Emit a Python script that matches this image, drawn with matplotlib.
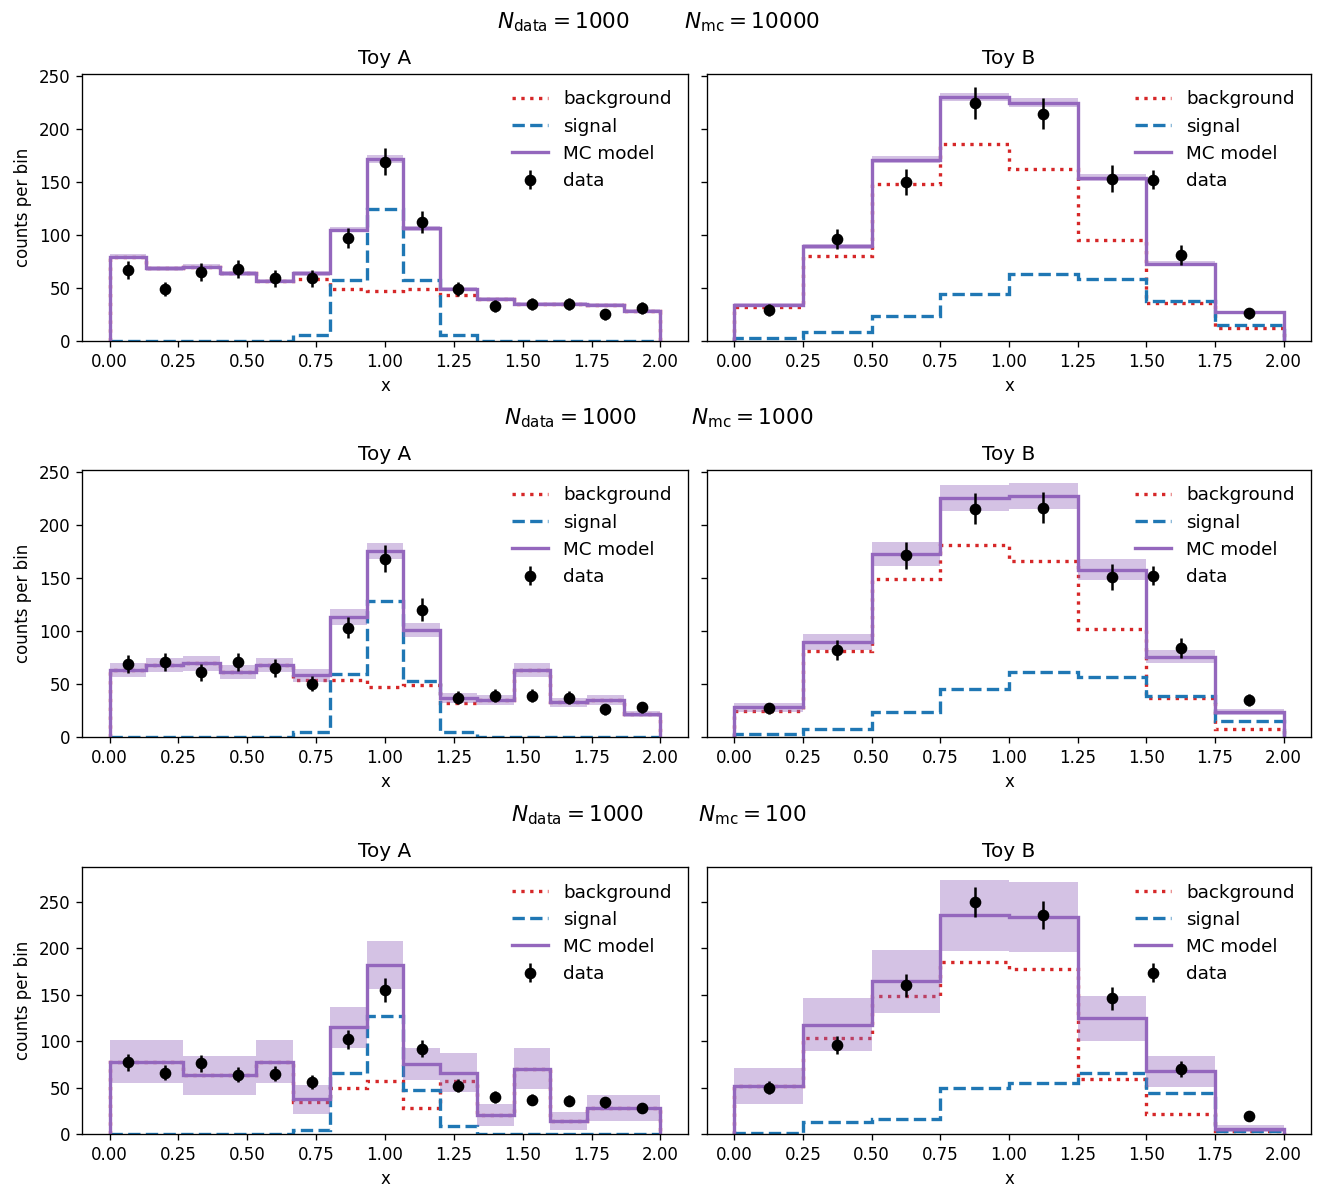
import matplotlib.pyplot as plt
import numpy as np

# bin edges of the two toys
edges_a = np.linspace(0, 2, 16)
edges_b = np.linspace(0, 2, 9)

n_data = 1000
n_mc = [10000, 1000, 100]

# --- N_mc = 10000 ---
bkg_1a = [79.3, 68.3, 70, 63.6, 56.7, 58, 48.6, 46.7, 49, 43.4, 40, 35, 35, 34, 28.5]
sig_1a = [0, 0, 0, 0, 0, 5.6, 57, 124, 57, 5.6, 0, 0, 0, 0, 0]
mc_1a = [79.3, 68.3, 70, 63.6, 56.7, 63.6, 105, 171.5, 106, 49, 40, 35, 35, 34, 28.5]
mcerr_1a = [2.3, 2.2, 2.2, 2.1, 2, 2.1, 2.7, 3.5, 2.7, 1.8, 1.7, 1.6, 1.6, 1.5, 1.4]
data_1a = [67, 49, 65, 68, 59, 59, 97, 169, 112, 49, 33, 35, 35, 25, 31]

bkg_1b = [31.7, 80.3, 147.6, 186, 162, 95, 35.7, 12.5]
sig_1b = [2.5, 8.2, 23.2, 43.9, 63, 58.3, 37.6, 15]
mc_1b = [34, 89.3, 170.8, 229.8, 224.5, 153.9, 73, 27]
mcerr_1b = [1.5, 2.5, 3.5, 4, 4, 3.3, 2.3, 1.4]
data_1b = [29, 96, 150, 224, 214, 153, 81, 26]

# --- N_mc = 1000 ---
bkg_2a = [63, 67.7, 69.3, 61.4, 67.7, 53.3, 53.3, 46.7, 48.9, 31.7, 34.8, 63, 32.6, 34.8, 21.6]
sig_2a = [0, 0, 0, 0, 0, 5, 59.5, 128, 52.6, 5, 0, 0, 0, 0, 0]
mc_2a = [63, 67.7, 69.3, 61.4, 67.7, 58.3, 113, 175, 100.6, 37, 34.8, 63, 32.6, 34.8, 21.6]
mcerr_2a = [6.4, 6.8, 7.0, 6.3, 6.6, 6.1, 7.2, 7.8, 6.6, 4.8, 4.7, 6.4, 4.6, 4.7, 3.0]
data_2a = [69, 71, 61, 71, 65, 50, 103, 168, 120, 37, 39, 39, 37, 26, 28]

bkg_2b = [24.8, 81.2, 148.6, 180.6, 165.5, 101.9, 37, 7.5]
sig_2b = [2.5, 7.5, 23.5, 44.8, 61.4, 56.4, 38.6, 15.4]
mc_2b = [27.9, 89.6, 172.4, 225.4, 227, 157.7, 75.5, 23.8]
mcerr_2b = [4.2, 7.5, 11, 12.2, 11.8, 9.6, 6.1, 2.7]
data_2b = [27, 82, 171, 215, 216, 151, 84, 35]

# --- N_mc = 100 ---
bkg_3a = [78, 78, 63.3, 63.3, 78, 34.5, 49.3, 57.2, 28.4, 57.2, 20.5, 70.5, 14, 28.4, 28.4]
sig_3a = [0, 0, 0, 0, 0, 4, 65.5, 126.6, 47, 8.6, 0, 0, 0, 0, 0]
mc_3a = [78, 78, 63.3, 63.3, 78, 37.4, 114.7, 182, 75.2, 66.2, 20.5, 70.5, 14, 28.4, 28.4]
mcerr_3a = [23.4, 23.4, 21, 21, 23.4, 15.6, 22.5, 26, 17.4, 20.7, 12.2, 22.3, 9.9, 14, 14]
data_3a = [77, 66, 76, 64, 65, 56, 102, 155, 92, 52, 40, 37, 36, 34, 28]

bkg_3b = [51.8, 103.6, 148.6, 184.9, 177.7, 59, 21.6, 3.0]
sig_3b = [0.7, 13, 15.8, 49.6, 55.4, 65.5, 44.6, 2.8]
mc_3b = [51.8, 117.6, 164.4, 235.3, 233.5, 124.8, 67.3, 5.8]
mcerr_3b = [19.4, 28.4, 33.6, 38.5, 38, 24.3, 16.5, 3.4]
data_3b = [50, 96, 160, 250, 236, 146, 70, 19]

rows = [
    [(bkg_1a, sig_1a, mc_1a, mcerr_1a, data_1a), (bkg_1b, sig_1b, mc_1b, mcerr_1b, data_1b)],
    [(bkg_2a, sig_2a, mc_2a, mcerr_2a, data_2a), (bkg_2b, sig_2b, mc_2b, mcerr_2b, data_2b)],
    [(bkg_3a, sig_3a, mc_3a, mcerr_3a, data_3a), (bkg_3b, sig_3b, mc_3b, mcerr_3b, data_3b)],
]
ytops = [251.5, 251.5, 287.5]

W, H = 1317, 1186
row_tops = [74, 470, 867]   # pixels from top
row_h = 267
col_lr = [(82, 688), (707, 1311)]
sup_y = [22, 418, 815]


def draw_toy(ax, edges, bkg, sig, mc, mcerr, data):
    mc = np.array(mc)
    mcerr = np.array(mcerr)
    data = np.array(data)
    centers = 0.5 * (edges[1:] + edges[:-1])
    ax.stairs(bkg, edges, color="tab:red", linestyle=":", linewidth=2, label="background")
    ax.stairs(sig, edges, color="tab:blue", linestyle="--", linewidth=2, label="signal")
    ax.stairs(mc + mcerr, edges, baseline=mc - mcerr, fill=True,
              color="tab:purple", alpha=0.4, linewidth=0)
    ax.stairs(mc, edges, color="tab:purple", linewidth=2, label="MC model")
    ax.errorbar(centers, data, yerr=np.sqrt(data), fmt="o", color="k", label="data")
    ax.legend(frameon=False, fontsize=11, loc="upper right")
    ax.set_xlabel("x")


fig = plt.figure(figsize=(W / 120, H / 120), dpi=120)

for i in range(3):
    fig.text(0.5, 1 - sup_y[i] / H,
             r"$N_{\rm data} = %d$        $N_{\rm mc} = %d$" % (n_data, n_mc[i]),
             ha="center", va="center", fontsize=13)
    bottom = 1 - (row_tops[i] + row_h) / H
    axes = []
    for j, (l, r) in enumerate(col_lr):
        rect = [l / W, bottom, (r - l) / W, row_h / H]
        if j == 0:
            ax = fig.add_axes(rect)
        else:
            ax = fig.add_axes(rect, sharey=axes[0])
            ax.tick_params(labelleft=False)
        axes.append(ax)
    draw_toy(axes[0], edges_a, *rows[i][0])
    draw_toy(axes[1], edges_b, *rows[i][1])
    axes[0].set_title("Toy A")
    axes[1].set_title("Toy B")
    axes[0].set_ylabel("counts per bin")
    axes[0].set_ylim(0, ytops[i])

fig.savefig("out.png", dpi=120)
